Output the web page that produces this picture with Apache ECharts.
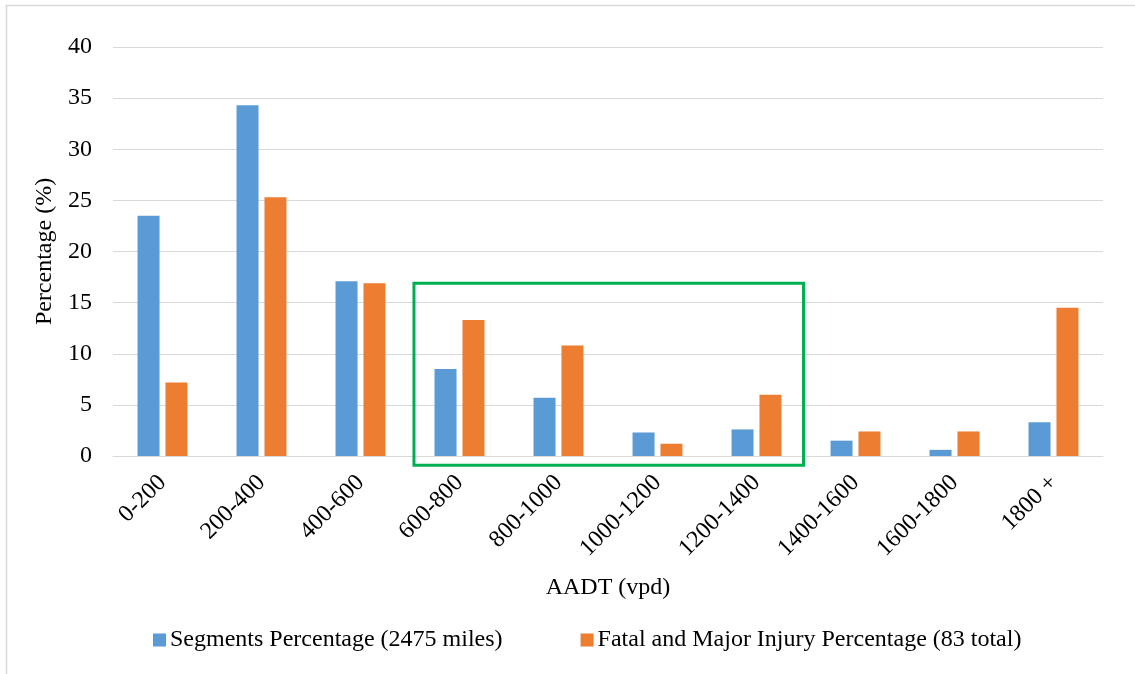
<!DOCTYPE html>
<html>
<head>
<meta charset="utf-8">
<title>AADT distribution</title>
<script src="https://cdn.jsdelivr.net/npm/echarts@6/dist/echarts.min.js"></script>
<style>
  html, body { margin: 0; padding: 0; background: #ffffff; }
  #chart { width: 1135px; height: 674px; }
</style>
</head>
<body>
<div id="chart"></div>
<script>
// AADT bins (vehicles per day)
const categories = ['0-200', '200-400', '400-600', '600-800', '800-1000',
  '1000-1200', '1200-1400', '1400-1600', '1600-1800', '1800 +'];

// Share of roadway segments (%) by AADT bin
const segmentsPct = [23.5, 34.3, 17.1, 8.5, 5.7, 2.3, 2.6, 1.5, 0.6, 3.3];

// Share of fatal and major injury crashes (%) by AADT bin
const fatalPct = [7.2, 25.3, 16.9, 13.3, 10.8, 1.2, 6.0, 2.4, 2.4, 14.5];

const yTicks = { min: 0, max: 40, interval: 5 };

// Highlighted AADT range (first/last bin and value span of the box)
const highlight = { from: '600-800', to: '1200-1400', low: -0.9, high: 16.9 };

const seriesNames = ['Segments Percentage (2475 miles)', 'Fatal and Major Injury Percentage (83 total)'];

const FONT = '"Liberation Serif", "Times New Roman", serif';
const chart = echarts.init(document.getElementById('chart'), null, { renderer: 'canvas' });

chart.setOption({
  backgroundColor: '#ffffff',
  animation: false,
  textStyle: { fontFamily: FONT, color: '#000000' },
  grid: { left: 113, right: 32, top: 47, bottom: 218, containLabel: false },
  legend: {
    top: 628,
    left: 148,
    padding: [0, 5],
    itemWidth: 13,
    itemHeight: 13,
    itemGap: 78,
    icon: 'rect',
    textStyle: { fontFamily: FONT, fontSize: 24, lineHeight: 24, color: '#000000', padding: [0, 0, 0, -1] },
    data: seriesNames
  },
  xAxis: {
    type: 'category',
    data: categories,
    name: 'AADT (vpd)',
    nameLocation: 'middle',
    nameGap: 120,
    nameTextStyle: { fontFamily: FONT, fontSize: 24, color: '#000000' },
    axisLine: { lineStyle: { color: '#d9d9d9', width: 1 } },
    axisTick: { show: false },
    axisLabel: { rotate: 45, margin: 23, fontFamily: FONT, fontSize: 24, color: '#000000', interval: 0 }
  },
  yAxis: {
    type: 'value',
    min: yTicks.min,
    max: yTicks.max,
    interval: yTicks.interval,
    name: 'Percentage (%)',
    nameLocation: 'middle',
    nameGap: 56,
    nameTextStyle: { fontFamily: FONT, fontSize: 24, color: '#000000' },
    axisLine: { show: false },
    axisTick: { show: false },
    axisLabel: { margin: 21, fontFamily: FONT, fontSize: 24, color: '#000000' },
    splitLine: { lineStyle: { color: '#d9d9d9', width: 1 } }
  },
  series: [
    {
      name: seriesNames[0],
      type: 'bar',
      data: segmentsPct,
      barWidth: 22,
      barGap: '27%',
      itemStyle: { color: '#5B9BD5' }
    },
    {
      name: seriesNames[1],
      type: 'bar',
      data: fatalPct,
      barWidth: 22,
      barGap: '27%',
      itemStyle: { color: '#ED7D31' }
    }
  ]
});

// Outline box around the highlighted bins, placed through the chart's own scales
function drawOverlays() {
  const p0 = chart.convertToPixel({ gridIndex: 0 }, [highlight.from, highlight.high]);
  const p1 = chart.convertToPixel({ gridIndex: 0 }, [highlight.to, highlight.low]);
  const band = chart.convertToPixel({ gridIndex: 0 }, [categories[1], 0])[0]
             - chart.convertToPixel({ gridIndex: 0 }, [categories[0], 0])[0];
  const x0 = p0[0] - band * 0.46;
  const x1 = p1[0] + band * 0.475;
  chart.setOption({
    graphic: [
      {
        type: 'rect',
        z: 100,
        shape: { x: x0, y: p0[1], width: x1 - x0, height: p1[1] - p0[1] },
        style: { fill: 'none', stroke: '#00B050', lineWidth: 3 }
      },
      {
        type: 'rect',
        z: 100,
        shape: { x: 6.5, y: 5.5, width: 1140, height: 680 },
        style: { fill: 'none', stroke: '#d9d9d9', lineWidth: 1.5 }
      }
    ]
  });
}
drawOverlays();
</script>
</body>
</html>
